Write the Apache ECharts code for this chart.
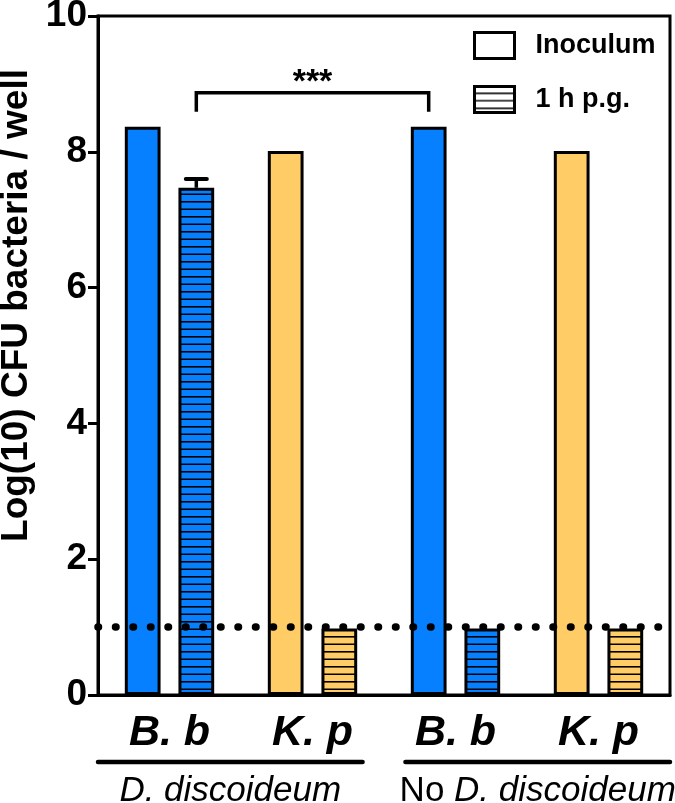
<!DOCTYPE html>
<html>
<head>
<meta charset="utf-8">
<script src="https://cdn.jsdelivr.net/npm/echarts@6/dist/echarts.min.js"></script>
<style>
  html, body { margin: 0; padding: 0; background: #fff; }
  #chart { width: 675px; height: 803px; }
</style>
</head>
<body>
<div id="chart"></div>
<script>
// categories on the x axis (two per group)
const categories = ['B. b', 'K. p', 'B. b', 'K. p']
const groupLabels = ['D. discoideum', 'No D. discoideum']
const seriesNames = ['Inoculum', '1 h p.g.']

// log10 CFU / well
const inoculum = [8.37, 8.01, 8.37, 8.01]
const onePg = [7.47, 0.98, 0.98, 0.98]
const onePgErrTop = [7.60, null, null, null]

// detection limit (dotted line)
const detectionLimit = 1.0

// significance bracket: from 1 h p.g. of cat 0 to inoculum of cat 2
const bracketCats = [0, 2]
const bracketY = [8.87, 8.59]
const bracketLabel = '***'

const yTicks = [0, 2, 4, 6, 8, 10]

const BLUE = '#0780FF'
const YELLOW = '#FFCC66'
const FONT = 'Liberation Sans, Arial, sans-serif'

// horizontal stripes pattern
function stripes(bg) {
  const c = document.createElement('canvas')
  c.width = 8
  c.height = 15
  const ctx = c.getContext('2d')
  ctx.fillStyle = bg
  ctx.fillRect(0, 0, 8, 15)
  ctx.fillStyle = '#000'
  ctx.fillRect(0, 6, 8, 1.6)
  ctx.fillRect(0, 13.5, 8, 1.6)
  return { image: c, repeat: 'repeat' }
}

const catColor = i => (i % 2 === 0 ? BLUE : YELLOW)

const chart = echarts.init(document.getElementById('chart'), null, { renderer: 'canvas' })

// bar offset from category center = (barWidth + gap) / 2 of band
const BAR_W = 0.25
const OFF = BAR_W * 1.5 / 2

chart.setOption({
  animation: false,
  backgroundColor: '#fff',
  grid: {
    left: 98, right: 5, top: 16, bottom: 108,
    containLabel: false, outerBoundsMode: 'none',
    show: true, borderColor: '#000', borderWidth: 3, backgroundColor: 'transparent'
  },
  legend: {
    orient: 'vertical',
    left: 468, top: 26,
    itemWidth: 40, itemHeight: 26, itemGap: 25,
    icon: 'rect',
    textStyle: { fontFamily: FONT, fontWeight: 'bold', fontSize: 27, color: '#000', padding: [0, 0, 0, 16] },
    data: [
      { name: seriesNames[0], itemStyle: { color: '#fff', borderColor: '#000', borderWidth: 3 } },
      { name: seriesNames[1], itemStyle: { color: stripes('#fff'), borderColor: '#000', borderWidth: 3 } }
    ]
  },
  xAxis: {
    type: 'category',
    data: categories,
    axisLine: { lineStyle: { color: '#000', width: 3 } },
    axisTick: { alignWithLabel: true, length: 9, lineStyle: { color: '#000', width: 3 } },
    axisLabel: {
      margin: 17, color: '#000', fontFamily: FONT, fontSize: 43,
      fontWeight: 'bold', fontStyle: 'italic'
    }
  },
  yAxis: {
    type: 'value', min: 0, max: 10, interval: 2,
    name: 'Log(10) CFU bacteria / well',
    nameLocation: 'middle', nameGap: 50,
    nameTextStyle: {
      fontFamily: FONT, fontSize: 37, fontWeight: 'bold', color: '#000',
      padding: [0, 0, 0, 100]
    },
    splitLine: { show: false },
    axisLine: { show: true, lineStyle: { color: '#000', width: 3 } },
    axisTick: { show: true, length: 10, lineStyle: { color: '#000', width: 3 } },
    axisLabel: {
      margin: 11, color: '#000', fontFamily: FONT, fontSize: 37, fontWeight: 'bold',
      formatter: v => (yTicks.includes(v) ? String(v) : '')
    }
  },
  series: [
    {
      name: seriesNames[0], type: 'bar', barWidth: (BAR_W * 100) + '%', barGap: '50%',
      data: inoculum.map((v, i) => ({
        value: v,
        itemStyle: { color: catColor(i), borderColor: '#000', borderWidth: 3 }
      })),
      markLine: {
        silent: true, symbol: 'none', z: 20,
        label: { show: false },
        lineStyle: { color: '#000', width: 7.5, type: [0.5, 17], cap: 'round' },
        data: [{ yAxis: detectionLimit }]
      }
    },
    {
      name: seriesNames[1], type: 'bar', barWidth: (BAR_W * 100) + '%', barGap: '50%',
      data: onePg.map((v, i) => ({
        value: v,
        itemStyle: { color: stripes(catColor(i)), borderColor: '#000', borderWidth: 3 }
      }))
    },
    {
      // error bar (upper whisker only)
      type: 'custom', z: 5, silent: true,
      data: onePgErrTop.map((t, i) => [i, onePg[i], t]).filter(d => d[2] != null),
      renderItem(params, api) {
        const band = api.size([1, 0])[0]
        const x = api.coord([api.value(0), 0])[0] + band * OFF
        const y0 = api.coord([api.value(0), api.value(1)])[1]
        const y1 = api.coord([api.value(0), api.value(2)])[1]
        const style = { stroke: '#000', lineWidth: 3.5 }
        return {
          type: 'group',
          children: [
            { type: 'line', shape: { x1: x, y1: y0, x2: x, y2: y1 }, style },
            { type: 'line', shape: { x1: x - 10.5, y1: y1, x2: x + 10.5, y2: y1 }, style: { stroke: '#000', lineWidth: 4, lineCap: 'round' } }
          ]
        }
      }
    },
    {
      // significance bracket
      type: 'custom', z: 5, silent: true, clip: false,
      data: [[bracketCats[0], bracketCats[1], bracketY[0], bracketY[1]]],
      renderItem(params, api) {
        const band = api.size([1, 0])[0]
        const xa = api.coord([api.value(0), 0])[0] + band * OFF
        const xb = api.coord([api.value(1), 0])[0] - band * OFF
        const yt = api.coord([0, api.value(2)])[1]
        const yb = api.coord([0, api.value(3)])[1]
        return {
          type: 'group',
          children: [
            {
              type: 'polyline',
              shape: { points: [[xa, yb], [xa, yt], [xb, yt], [xb, yb]] },
              style: { stroke: '#000', lineWidth: 3.5, fill: null }
            },
            {
              type: 'text',
              style: {
                x: (xa + xb) / 2, y: yt + 7, text: bracketLabel,
                align: 'center', verticalAlign: 'bottom',
                font: 'bold 34px ' + FONT, fill: '#000'
              }
            }
          ]
        }
      }
    },
    {
      // group underlines and labels below the axis
      type: 'custom', z: 5, silent: true, clip: false,
      data: [[0, 1, 0], [2, 3, 1]],
      renderItem(params, api) {
        const band = api.size([1, 0])[0]
        const g = api.value(2)
        const inset = band * 0.15
        const xa = api.coord([api.value(0), 0])[0] - band / 2 + (g === 1 ? inset : 0)
        const xb = api.coord([api.value(1), 0])[0] + band / 2 - (g === 0 ? inset : 0)
        const y0 = api.coord([0, 0])[1]
        const label = g === 0
          ? '{i|' + groupLabels[0] + '}'
          : '{n|No }{i|' + groupLabels[1].replace('No ', '') + '}'
        return {
          type: 'group',
          children: [
            {
              type: 'line',
              shape: { x1: xa, y1: y0 + 67, x2: xb, y2: y0 + 67 },
              style: { stroke: '#000', lineWidth: 4.5, lineCap: 'round' }
            },
            {
              type: 'text',
              style: {
                x: (xa + xb) / 2, y: y0 + 96, text: label,
                align: 'center', verticalAlign: 'middle',
                rich: {
                  i: { fontFamily: FONT, fontSize: 35, fontStyle: 'italic', fill: '#000' },
                  n: { fontFamily: FONT, fontSize: 35, fill: '#000' }
                }
              }
            }
          ]
        }
      }
    }
  ]
})
</script>
</body>
</html>
